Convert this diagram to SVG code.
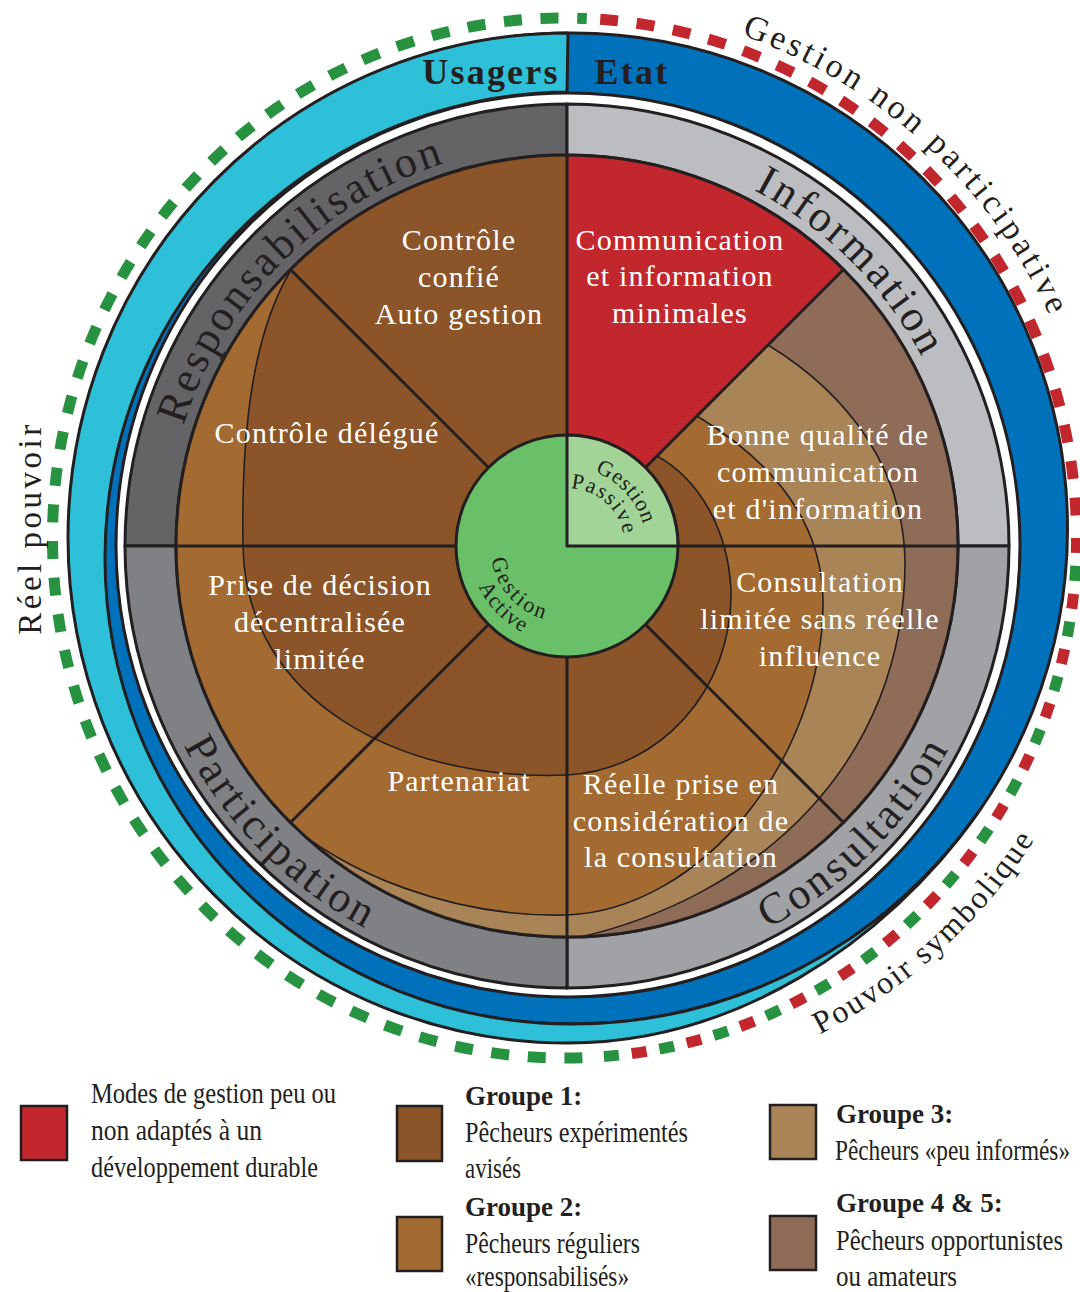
<svg xmlns="http://www.w3.org/2000/svg" width="1080" height="1292" viewBox="0 0 1080 1292">
<defs>
<style>
.k{stroke:#231F20;stroke-width:3;stroke-linejoin:round}
.thin{fill:none;stroke:#231F20;stroke-width:1.6}
.w{font-family:"Liberation Serif","Times New Roman",serif;font-size:30px;fill:#fff;text-anchor:middle;letter-spacing:1.2px}
.ring{font-family:"Liberation Serif","Times New Roman",serif;font-size:44px;fill:#231F20;letter-spacing:3px}
.out{font-family:"Liberation Serif","Times New Roman",serif;fill:#231F20}
.gc{font-family:"Liberation Serif","Times New Roman",serif;font-size:22px;fill:#231F20}
.leg{font-family:"Liberation Serif","Times New Roman",serif;font-size:30px;fill:#231F20}
.legb{font-family:"Liberation Serif","Times New Roman",serif;font-size:27px;font-weight:bold;fill:#231F20}
.dg{fill:none;stroke:#27923F;stroke-width:11;stroke-dasharray:18 18.7}
.dr{fill:none;stroke:#C1272D;stroke-width:11;stroke-dasharray:18 18.7}
.sq{stroke:#231F20;stroke-width:2.5}
</style>
<clipPath id="disc"><circle cx="567" cy="546" r="391"/></clipPath>
<path id="pResp" d="M178.7,650 A402,402 0 0 1 671,157.7"/>
<path id="pInfo" d="M463,157.7 A402,402 0 0 1 955.3,650"/>
<path id="pPart" d="M149.7,434.2 A432,432 0 0 0 678.8,963.3"/>
<path id="pCons" d="M455.2,963.3 A432,432 0 0 0 984.3,434.2"/>
<path id="pGnp" d="M404.7,29.7 A533,533 0 0 1 1085.4,653.4"/>
<path id="pPs" d="M395.4,1069.6 A558,558 0 0 0 1110.2,419.1"/>
<path id="pGp1" d="M549.7,467.9 A81,81 0 0 1 643.3,570.1"/>
<path id="pGp2" d="M548.9,491.9 A56,56 0 0 1 622.9,557.4"/>
<path id="pGa1" d="M495.7,522.8 A73,73 0 0 0 582.6,619.4"/>
<path id="pGa2" d="M472.8,519 A99,99 0 0 0 590.7,641.1"/>
</defs>
<rect width="1080" height="1292" fill="#fff"/>

<g id="dashed-border">
<path class="dg" d="M582.4,1057.7 A512,520 0 0 1 52.5,538 A512,520 0 0 1 586.8,18.5"/>
<path class="dr" d="M600.2,19.3 A512,520 0 0 1 1076.2,519.9"/>
<path fill="none" stroke="#C1272D" stroke-width="11" stroke-dasharray="15 41" d="M1076.5,538 A512,520 0 0 1 600.2,1056.8"/>
<path fill="none" stroke="#27923F" stroke-width="11" stroke-dasharray="15 41" stroke-dashoffset="-28" d="M1076.5,538 A512,520 0 0 1 600.2,1056.8"/>
</g>

<g id="outer-labels">
<text class="out" font-size="34" letter-spacing="3.5" text-anchor="middle"><textPath href="#pGnp" startOffset="50%">Gestion non participative</textPath></text>
<text class="out" font-size="32" letter-spacing="2" text-anchor="middle"><textPath href="#pPs" startOffset="50%">Pouvoir symbolique</textPath></text>
<text class="out" font-size="33" letter-spacing="3.5" text-anchor="middle" transform="translate(41,528) rotate(-90)">Réel pouvoir</text>
</g>

<g id="ring-etat">
<circle class="k" cx="572" cy="528.5" r="495.5" fill="#0072BC"/>
</g>
<g id="ring-usagers">
<path class="k" fill="#2EC0D8" d="M568,33 A500,505 0 0 0 68,538 A500,505 0 0 0 568,1043 C731,1043 884.3,946.2 977.9,812.7 A495.5,495.5 0 0 1 572,1024 L571,1024 A466,466 0 0 1 105,558 A466,466 0 0 1 567,92 Z"/>
</g>
<g id="ring-labels">
<text class="out" font-size="36" font-weight="bold" letter-spacing="2.2" x="491" y="84" text-anchor="middle">Usagers</text>
<text class="out" font-size="36" font-weight="bold" letter-spacing="2.2" x="632" y="84" text-anchor="middle">Etat</text>
</g>
<circle id="gap" class="k" cx="568" cy="545" r="452" fill="#fff"/>

<g id="cat-responsabilisation">
<path class="k" fill="#646466" d="M125,546 A442,442 0 0 1 567,104 L567,155 A391,391 0 0 0 176,546 Z"/>
<text class="ring" text-anchor="middle"><textPath href="#pResp" startOffset="50%">Responsabilisation</textPath></text>
</g>
<g id="cat-information">
<path class="k" fill="#BCBDC0" d="M567,104 A442,442 0 0 1 1009,546 L958,546 A391,391 0 0 0 567,155 Z"/>
<text class="ring" text-anchor="middle"><textPath href="#pInfo" startOffset="50%">Information</textPath></text>
</g>
<g id="cat-consultation">
<path class="k" fill="#A1A2A5" d="M1009,546 A442,442 0 0 1 567,988 L567,937 A391,391 0 0 0 958,546 Z"/>
<text class="ring" text-anchor="middle"><textPath href="#pCons" startOffset="50%">Consultation</textPath></text>
</g>
<g id="cat-participation">
<path class="k" fill="#808184" d="M567,988 A442,442 0 0 1 125,546 L176,546 A391,391 0 0 0 567,937 Z"/>
<text class="ring" text-anchor="middle"><textPath href="#pPart" startOffset="50%">Participation</textPath></text>
</g>

<g id="groups-fill" clip-path="url(#disc)">
<circle cx="567" cy="546" r="391" fill="#8F6C58"/>
<path fill="#A98456" d="M768,345 C850,395 903,470 905,560 C906,760 760,900 567,940 L567,1010 L90,1010 L90,80 L1033,80 Z"/>
<path fill="#A36B32" d="M697,416 C770,460 822,520 823,600 C824,760 700,910 567,915 C450,918 340,870 288,822 L100,1010 L90,1010 L90,80 L1033,80 Z"/>
<path fill="#8B5529" d="M657,456 C700,480 728,530 731,590 C733,690 660,770 567,775 C400,782 245,700 243,546 C241,420 255,330 291,270 L90,69 L1033,80 Z"/>
<path id="sector-minimal" fill="#C1272D" d="M567,546 L567,155 A391,391 0 0 1 843.5,269.5 Z"/>
<path class="thin" d="M657,456 C700,480 728,530 731,590 C733,690 660,770 567,775 C400,782 245,700 243,546 C241,420 255,330 291,270"/>
<path class="thin" d="M697,416 C770,460 822,520 823,600 C824,760 700,910 567,915 C450,918 340,870 288,822"/>
<path class="thin" d="M768,345 C850,395 903,470 905,560 C906,760 760,900 567,940"/>
</g>

<g id="connectors" class="k" fill="none">
<circle cx="567" cy="546" r="391"/>
<line x1="567" y1="155" x2="567" y2="937"/>
<line x1="176" y1="546" x2="958" y2="546"/>
<line x1="290.5" y1="269.5" x2="843.5" y2="822.5"/>
<line x1="843.5" y1="269.5" x2="290.5" y2="822.5"/>
</g>

<g id="sector-texts">
<text class="w" x="459" y="250">Contrôle</text>
<text class="w" x="459" y="287">confié</text>
<text class="w" x="459" y="324">Auto gestion</text>
<text class="w" x="680" y="250">Communication</text>
<text class="w" x="680" y="286">et information</text>
<text class="w" x="680" y="323">minimales</text>
<text class="w" x="327" y="443">Contrôle délégué</text>
<text class="w" x="818" y="445">Bonne qualité de</text>
<text class="w" x="818" y="482">communication</text>
<text class="w" x="818" y="519">et d'information</text>
<text class="w" x="320" y="595">Prise de décision</text>
<text class="w" x="320" y="632">décentralisée</text>
<text class="w" x="320" y="669">limitée</text>
<text class="w" x="820" y="592">Consultation</text>
<text class="w" x="820" y="629">limitée sans réelle</text>
<text class="w" x="820" y="666">influence</text>
<text class="w" x="459" y="791">Partenariat</text>
<text class="w" x="681" y="794">Réelle prise en</text>
<text class="w" x="681" y="831">considération de</text>
<text class="w" x="681" y="867">la consultation</text>
</g>

<g id="center-gestion">
<circle class="k" cx="567" cy="546" r="111" fill="#6ABF69"/>
<path class="k" fill="#A2D497" d="M567,546 L567,435 A111,111 0 0 1 678,546 Z"/>
<text class="gc" letter-spacing="0.8" text-anchor="middle"><textPath href="#pGp1" startOffset="50%">Gestion</textPath></text>
<text class="gc" letter-spacing="1.5" text-anchor="middle"><textPath href="#pGp2" startOffset="50%">Passive</textPath></text>
<text class="gc" letter-spacing="2.5" text-anchor="middle"><textPath href="#pGa1" startOffset="50%">Gestion</textPath></text>
<text class="gc" letter-spacing="1.2" text-anchor="middle"><textPath href="#pGa2" startOffset="50%">Active</textPath></text>
</g>

<g id="legend">
<rect class="sq" x="21" y="1106" width="46" height="54" fill="#C1272D"/>
<text class="leg" transform="translate(91,1103) scale(0.82,1)" textLength="298.8" lengthAdjust="spacingAndGlyphs">Modes de gestion peu ou</text>
<text class="leg" transform="translate(91,1140) scale(0.82,1)" textLength="208.5" lengthAdjust="spacingAndGlyphs">non adaptés à un</text>
<text class="leg" transform="translate(91,1177) scale(0.82,1)" textLength="276.8" lengthAdjust="spacingAndGlyphs">développement durable</text>
<rect class="sq" x="397" y="1106" width="45" height="55" fill="#8B5529"/>
<text class="legb" x="465" y="1105">Groupe 1:</text>
<text class="leg" transform="translate(465,1142) scale(0.82,1)" textLength="272" lengthAdjust="spacingAndGlyphs">Pêcheurs expérimentés</text>
<text class="leg" transform="translate(465,1178) scale(0.82,1)" textLength="68.3" lengthAdjust="spacingAndGlyphs">avisés</text>
<rect class="sq" x="397" y="1217" width="45" height="54" fill="#A36B32"/>
<text class="legb" x="465" y="1216">Groupe 2:</text>
<text class="leg" transform="translate(465,1253) scale(0.82,1)" textLength="213.4" lengthAdjust="spacingAndGlyphs">Pêcheurs réguliers</text>
<text class="leg" transform="translate(465,1286) scale(0.82,1)" textLength="200" lengthAdjust="spacingAndGlyphs">«responsabilisés»</text>
<rect class="sq" x="770" y="1105" width="46" height="54" fill="#A98456"/>
<text class="legb" x="836" y="1123">Groupe 3:</text>
<text class="leg" transform="translate(835,1160) scale(0.8,1)" textLength="293.8" lengthAdjust="spacingAndGlyphs">Pêcheurs «peu informés»</text>
<rect class="sq" x="770" y="1216" width="46" height="54" fill="#8F6C58"/>
<text class="legb" x="836" y="1212">Groupe 4 &amp; 5:</text>
<text class="leg" transform="translate(836,1250) scale(0.82,1)" textLength="276.8" lengthAdjust="spacingAndGlyphs">Pêcheurs opportunistes</text>
<text class="leg" transform="translate(836,1286) scale(0.82,1)" textLength="147.6" lengthAdjust="spacingAndGlyphs">ou amateurs</text>
</g>
</svg>
